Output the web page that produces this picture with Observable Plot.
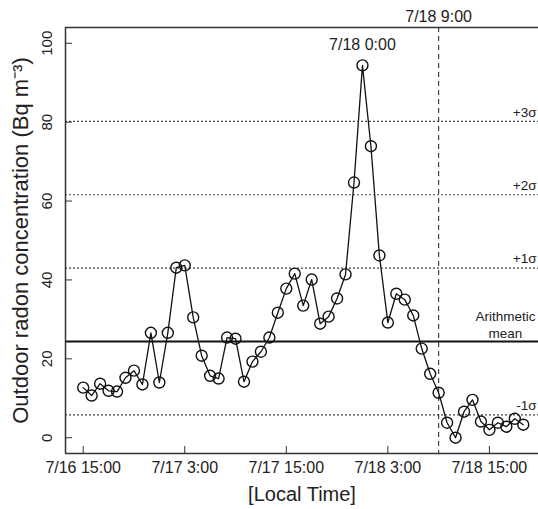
<!DOCTYPE html>
<html>
<head>
<meta charset="utf-8">
<script src="https://cdn.jsdelivr.net/npm/d3@7"></script>
<script src="https://cdn.jsdelivr.net/npm/@observablehq/plot@0.6"></script>
<style>
  html, body { margin: 0; padding: 0; background: #fff; }
  #chart svg { display: block; }
</style>
</head>
<body>
<div id="chart"></div>
<script>
// Hours since 7/16 15:00 (local time)
const hours = [0,1,2,3,4,5,6,7,8,9,10,11,12,13,14,15,16,17,18,19,20,21,22,23,24,25,26,27,28,29,30,31,32,33,34,35,36,37,38,39,40,41,42,43,44,45,46,47,48,49,50,51,52];
const radon = [12.7,10.7,13.7,11.9,11.7,15.2,17.0,13.5,26.6,14.0,26.6,43.1,43.7,30.5,20.8,15.7,15.0,25.4,25.1,14.2,19.3,21.8,25.4,31.7,37.8,41.6,33.5,40.1,28.9,30.7,35.3,41.4,64.7,94.4,73.9,46.2,29.2,36.5,35.0,31.0,22.6,16.2,11.4,3.8,0.0,6.6,9.6,4.1,2.0,3.8,2.8,4.8,3.3];

const xTickHours = [0, 12, 24, 36, 48];
const xTickLabels = ["7/16 15:00", "7/17 3:00", "7/17 15:00", "7/18 3:00", "7/18 15:00"];
const yTicks = [0, 20, 40, 60, 80, 100];

const meanValue = 24.4;
const sigmaLevels = [80.2, 61.6, 43.0, 5.8];
const sigmaLabels = ["+3σ", "+2σ", "+1σ", "-1σ"];

const markerHour = 42;           // 7/18 9:00
const markerLabel = "7/18 9:00";
const peakHour = 33;             // 7/18 0:00
const peakLabel = "7/18 0:00";

const xDomain = [-2.09, 53.8];
const yDomain = [-4, 104];

const data = hours.map((h, i) => ({h, v: radon[i]}));
const sigmas = sigmaLevels.map((v, i) => ({v, label: sigmaLabels[i]}));
const peak = data.find(d => d.h === peakHour);

const font = "'Liberation Sans', Arial, Helvetica, sans-serif";

const chart = Plot.plot({
  width: 538,
  height: 509,
  marginTop: 27,
  marginBottom: 56,
  marginLeft: 65,
  marginRight: 0,
  style: {fontFamily: font, fontSize: "15px", color: "#222", background: "#fff"},
  x: {type: "linear", domain: xDomain, axis: null},
  y: {type: "linear", domain: yDomain, axis: null},
  marks: [
    // sigma dotted lines
    Plot.ruleY(sigmas, {y: "v", stroke: "#444", strokeWidth: 1.1, strokeDasharray: "2,2"}),
    // arithmetic mean
    Plot.ruleY([meanValue], {stroke: "#111", strokeWidth: 2}),
    // vertical dashed marker
    Plot.ruleX([markerHour], {stroke: "#333", strokeWidth: 1.1, strokeDasharray: "5,4"}),
    // frame: left, top, bottom
    Plot.ruleY([yDomain[0], yDomain[1]], {stroke: "#333", strokeWidth: 1.5}),
    Plot.ruleX([xDomain[0]], {stroke: "#333", strokeWidth: 1.5}),
    // inward ticks
    Plot.axisX({ticks: xTickHours, tickSize: 7, dy: -7, tickFormat: () => "", label: null, stroke: "#333"}),
    Plot.axisY({ticks: yTicks, tickSize: 7, dx: 7, tickFormat: () => "", label: null, stroke: "#333"}),
    // tick labels
    Plot.text(xTickHours, {x: d => d, frameAnchor: "bottom", dy: 14, lineAnchor: "middle", text: (d, i) => xTickLabels[i], fontSize: 16, fill: "#222"}),
    Plot.text(yTicks, {y: d => d, frameAnchor: "left", dx: -18, rotate: -90, textAnchor: "middle", lineAnchor: "middle", text: d => String(d), fontSize: 15, fill: "#222"}),
    // axis titles
    Plot.text(["Outdoor radon concentration (Bq m⁻³)"], {frameAnchor: "left", dx: -45, rotate: -90, textAnchor: "middle", lineAnchor: "middle", text: d => d, fontSize: 22, fill: "#222"}),
    Plot.text(["[Local Time]"], {frameAnchor: "bottom", dy: 41, lineAnchor: "middle", text: d => d, fontSize: 20, fill: "#222"}),
    // data
    Plot.line(data, {x: "h", y: "v", stroke: "#111", strokeWidth: 1.3}),
    Plot.dot(data, {x: "h", y: "v", r: 5.5, stroke: "#111", strokeWidth: 1.4, fill: "none"}),
    // annotations
    Plot.text(sigmas, {x: xDomain[1], y: "v", text: "label", textAnchor: "end", dx: -2, dy: -9, fontSize: 13.5, fill: "#222"}),
    Plot.text(["Arithmetic\nmean"], {frameAnchor: "right", y: meanValue, dx: -33, textAnchor: "middle", lineAnchor: "bottom", dy: -3, lineHeight: 1.3, text: d => d, fontSize: 13.5, fill: "#222"}),
    Plot.text([markerLabel], {x: markerHour, frameAnchor: "top", dy: -11, lineAnchor: "middle", text: d => d, fontSize: 16, fill: "#222"}),
    Plot.text([peak], {x: "h", y: "v", dy: -20, lineAnchor: "middle", text: () => peakLabel, fontSize: 16, fill: "#222"})
  ]
});

document.getElementById("chart").appendChild(chart);
</script>
</body>
</html>
